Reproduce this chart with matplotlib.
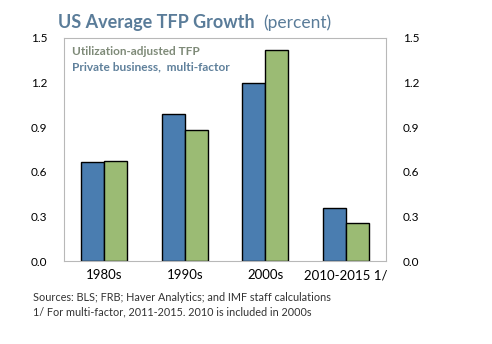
import matplotlib.pyplot as plt
import numpy as np

plt.rcParams['font.family'] = ['Lato', 'DejaVu Sans']

periods = ["1980s", "1990s", "2000s", "2010-2015 1/"]
util_adj = [0.665, 0.99, 1.195, 0.36]      # utilization-adjusted TFP
multi_factor = [0.67, 0.88, 1.415, 0.255]  # private business, multi-factor
yticks = [0.0, 0.3, 0.6, 0.9, 1.2, 1.5]

blue = "#4a7db0"
green = "#9bbb74"

fig = plt.figure(figsize=(4.92, 3.44), dpi=100)
ax = fig.add_axes([0.130, 0.241, 0.655, 0.649])

x = np.arange(len(periods))
w = 0.285
ax.bar(x - w/2, util_adj, width=w, color=blue, edgecolor="black", linewidth=1.0)
ax.bar(x + w/2, multi_factor, width=w, color=green, edgecolor="black", linewidth=1.0)

ax.set_xlim(-0.5, 3.5)
ax.set_ylim(0, 1.5)
ax.set_yticks(yticks)
ax.set_yticklabels([f"{v:.1f}" for v in yticks])
ax.set_xticks(x)
ax.set_xticklabels(periods, fontsize=9.5)
ax.tick_params(axis="y", length=0, pad=12, labelsize=8.5, right=True, labelright=True)
ax.tick_params(axis="x", length=0, pad=6)
for s in ax.spines.values():
    s.set_color("#b8b8b8")
    s.set_linewidth(0.8)

# series labels inside the plot
ax.text(0.025, 0.965, "Utilization-adjusted TFP", transform=ax.transAxes,
        fontsize=8.5, fontweight="bold", color="#7e8a78", va="top")
ax.text(0.025, 0.895, "Private business,  multi-factor", transform=ax.transAxes,
        fontsize=8.6, fontweight="bold", color="#5f809b", va="top")

# title, with "(percent)" placed right after the bold part
title = fig.text(0.118, 0.92, "US Average TFP Growth", fontsize=13, fontweight="bold",
                 color="#5a7c99", va="baseline")
ax.annotate("(percent)", xy=(1, 0), xycoords=title, xytext=(6, 0),
            textcoords="offset points", fontsize=12.5, color="#5a7c99",
            va="bottom", annotation_clip=False)

fig.text(0.067, 0.135, "Sources: BLS; FRB; Haver Analytics; and IMF staff calculations",
         fontsize=7.8, color="#333333", va="center")
fig.text(0.067, 0.094, "1/ For multi-factor, 2011-2015. 2010 is included in 2000s",
         fontsize=7.8, color="#333333", va="center")

fig.savefig("out.png", dpi=100)
